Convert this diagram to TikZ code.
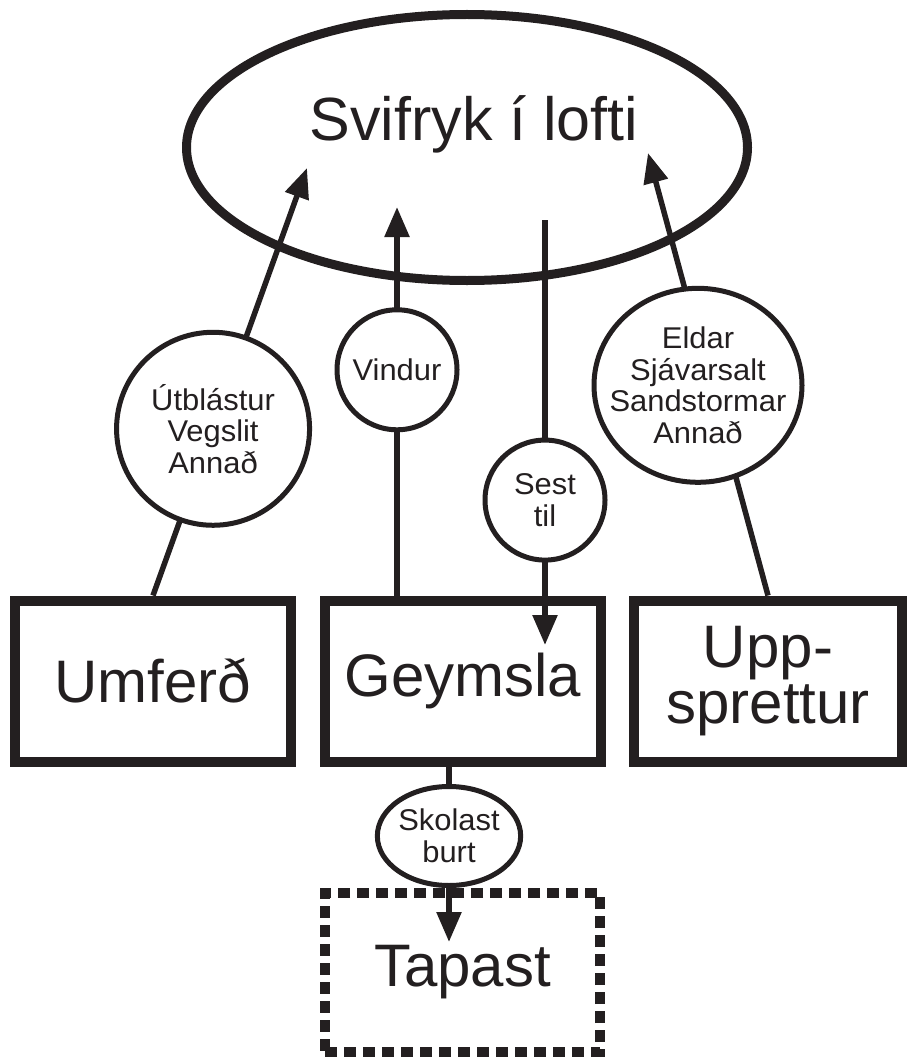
\documentclass[tikz,border=0pt]{standalone}
\usepackage{fontspec}
\setmainfont{Liberation Sans}
\newfontfamily\lblfont[FakeStretch=1.03]{Liberation Sans}
\usetikzlibrary{shapes.geometric,arrows.meta}
\definecolor{ink}{HTML}{231F20}

\begin{document}
\begin{tikzpicture}[x=1pt,y=-1pt,every node/.style={text=ink,inner sep=0pt},
  pool/.style={draw=ink,line width=10pt,minimum width=276pt,minimum height=161pt,align=center,font=\fontsize{60}{56}\selectfont},
  lost/.style={pool,dash pattern=on 12pt off 7pt},
  lbltext/.style={align=center,font=\lblfont\fontsize{30}{31.5}\selectfont},
  proc/.style={lbltext,circle,draw=ink,fill=white,line width=5pt},
  flow/.style={draw=ink,line width=5.5pt,-{Triangle[length=30pt,width=24pt]}}]
\useasboundingbox (0,0) rectangle (907,1062);
\node[ellipse,draw=ink,line width=9pt,minimum width=561pt,minimum height=266pt] (air) at (467,147.5) {};
\node[anchor=base,font=\fontsize{61}{70}\selectfont] (airtext) at (474,140) {Svifryk í lofti};
\node[pool] (umf) at (153,681) {Umferð};
\node[pool] (gey) at (463,681) {Geymsla};
\node[pool,minimum width=268pt] (upp) at (768,681) {Upp-\\sprettur};
\node[lost,minimum width=275pt,minimum height=159pt] (tap) at (462.5,972.5) {Tapast};
\coordinate (umf-in) at (307,168);
\coordinate (vin-in) at (397,207);
\coordinate (ses-out) at (545,220);
\coordinate (ses-in) at (545,645);
\coordinate (upp-in) at (648,153);
\coordinate (tap-in) at (449,942);
\draw[flow] (umf.north) -- node[proc,pos=.39,minimum size=193pt] (utb) {Útblástur\\Vegslit\\Annað} (umf-in);
\draw[flow] (gey.north -| vin-in) -- node[proc,pos=.581,minimum size=120pt] (vin) {Vindur} (vin-in);
\draw[flow] (ses-out) -- node[proc,pos=.659,minimum size=120pt] (ses) {Sest\\til} (ses-in);
\draw[flow] (upp.north) -- node[proc,ellipse,pos=.475,xshift=-13pt,minimum width=208pt,minimum height=194pt,
  label={[lbltext]center:{Eldar\\Sjávarsalt\\Sandstormar\\Annað}}] (eld) {} (upp-in);
\draw[flow] (gey.south -| tap-in) -- node[proc,ellipse,pos=.396,minimum width=139pt,minimum height=99pt] (sko) {Skolast\\burt} (tap-in);
\end{tikzpicture}
\end{document}
